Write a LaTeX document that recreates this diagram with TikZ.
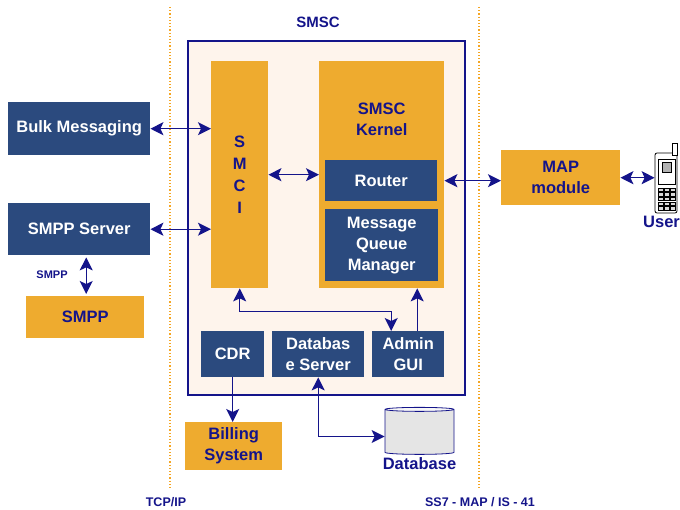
\documentclass[tikz,border=0pt]{standalone}
\usepackage{fontspec}
\setmainfont{Liberation Sans}
\usetikzlibrary{arrows.meta}
\usetikzlibrary{positioning}
\usetikzlibrary{shapes.geometric}
\definecolor{smscnavy}{HTML}{2B4A7E}
\definecolor{smscorange}{HTML}{EEAB2F}
\definecolor{smsccream}{HTML}{FEF4EC}
\definecolor{linkblue}{HTML}{14148A}
\definecolor{dotorange}{HTML}{F5A623}
\tikzset{link/.style={draw=linkblue,line width=1.3pt}}
\tikzset{twoway/.style={link,{Stealth[length=13pt,width=13pt,inset=3pt]}-{Stealth[length=13pt,width=13pt,inset=3pt]}}}
\tikzset{oneway/.style={link,-{Stealth[length=13pt,width=13pt,inset=3pt]}}}
\tikzset{navybox/.style={rectangle,fill=smscnavy,text=white,font=\bfseries\fontsize{16.5}{21}\selectfont,align=center,inner sep=0pt,anchor=north west}}
\tikzset{orangebox/.style={navybox,fill=smscorange,text=linkblue}}
\tikzset{boundary/.style={draw=dotorange,line width=1.2pt,dotted}}
\tikzset{note/.style={text=linkblue,font=\bfseries\fontsize{12.5}{14}\selectfont,align=center,inner sep=0pt}}
\tikzset{bignote/.style={note,font=\bfseries\fontsize{16.5}{21}\selectfont}}

\begin{document}
\begin{tikzpicture}[x=1pt,y=-1pt]
  \useasboundingbox (0,0) rectangle (680,510);
  % protocol boundaries
  \draw [boundary] (170,7) -- (170,490);
  \draw [boundary] (479,7) -- (479,490);
  % the SMSC
  \node [rectangle,draw=linkblue,line width=2pt,fill=smsccream,anchor=north west,
         minimum width=277pt,minimum height=354pt] (smsc) at (187,40) {};
  \node [note,font=\bfseries\fontsize{15}{17}\selectfont] (smsclabel) at (318,22) {SMSC};
  \node [orangebox,font=\bfseries\fontsize{16.5}{22}\selectfont,
         minimum width=57pt,minimum height=227pt] (smci) at (211,61) {S\\M\\C\\I};
  \node [orangebox,minimum width=125pt,minimum height=227pt] (kernel) at (319,61) {};
  \node [bignote,below=42pt of kernel.north] (kerneltitle) {SMSC\\Kernel};
  \node [navybox,minimum width=112pt,minimum height=41pt] (router) at (325,160) {Router};
  \node [navybox,minimum width=113pt,minimum height=72pt] (mqm) at (325,209) {Message\\Queue\\Manager};
  \node [navybox,minimum width=63pt,minimum height=46pt] (cdr) at (201,331) {CDR};
  \node [navybox,minimum width=92pt,minimum height=46pt] (dbserver) at (272,331) {Databas\\e Server};
  \node [navybox,minimum width=72pt,minimum height=46pt] (admin) at (372,331) {Admin\\GUI};
  % outside the SMSC
  \node [navybox,minimum width=142pt,minimum height=53pt] (bulk) at (8,102) {Bulk Messaging};
  \node [navybox,minimum width=142pt,minimum height=52pt] (smppserver) at (8,203) {SMPP Server};
  \node [orangebox,minimum width=118pt,minimum height=42pt] (smpp) at (26,296) {SMPP};
  \node [note,font=\bfseries\fontsize{11}{13}\selectfont] (smppnote) at (52,275) {SMPP};
  \node [orangebox,minimum width=97pt,minimum height=48pt] (billing) at (185,422) {Billing\\System};
  \node [orangebox,minimum width=119pt,minimum height=55pt] (map) at (501,150) {MAP\\module};
  \node [cylinder,shape border rotate=90,aspect=0.6,draw=linkblue,line width=0.8pt,
         minimum width=69pt,minimum height=47pt,cylinder uses custom fill,
         cylinder body fill=gray!20,cylinder end fill=gray!6] (database) at (419.5,432.5) {};
  \node [bignote,below=3pt of database] (dblabel) {Database};
  % the user's handset
  \node [rectangle,draw=black,line width=0.8pt,fill=white,rounded corners=2pt,
         minimum width=22pt,minimum height=60pt] (phone) at (666,183) {};
  \draw [line width=0.8pt,fill=white] (672,155) rectangle (677,143);
  \draw [line width=0.6pt] (658,159) rectangle (675,184);
  \draw [fill=gray!60] (662,162) rectangle (671,172);
  \foreach \row in {0,...,4}
    \foreach \col in {0,1,2}
      \draw [line width=0.4pt,fill=gray!30]
        (658.5+5.8*\col,188+4.6*\row) rectangle ++(4.6,3.4);
  \node [bignote,anchor=north west] (user) at (643,216) {User};
  % protocols
  \node [note] (tcpip) at (166,502) {TCP/IP};
  \node [note] (ss7) at (480,502) {SS7 - MAP / IS - 41};
  % connectors
  \draw [twoway] (bulk.east) -- (bulk.east -| smci.west);
  \draw [twoway] (smppserver.east) -- (smppserver.east -| smci.west);
  \draw [twoway] (smci.east) -- (smci.east -| kernel.west);
  \draw [twoway] (kernel.east |- router.east) -- (map.west |- router.east);
  \draw [twoway] (map.east) -- (map.east -| phone.west);
  \draw [twoway,shorten >=2pt,shorten <=2pt] ([xshift=7pt]smppserver.south) -- ([xshift=7pt]smppserver.south |- smpp.north);
  \draw [twoway] (smci.south) -- ++(0,23) -| ([xshift=-17pt]admin.north);
  \draw [oneway] ([xshift=9pt]admin.north) -- ([xshift=9pt]admin.north |- kernel.south);
  \draw [oneway] (cdr.south) -- (cdr.south |- billing.north);
  \draw [twoway] (dbserver.south) |- ([yshift=-4pt]database.west);
\end{tikzpicture}
\end{document}
